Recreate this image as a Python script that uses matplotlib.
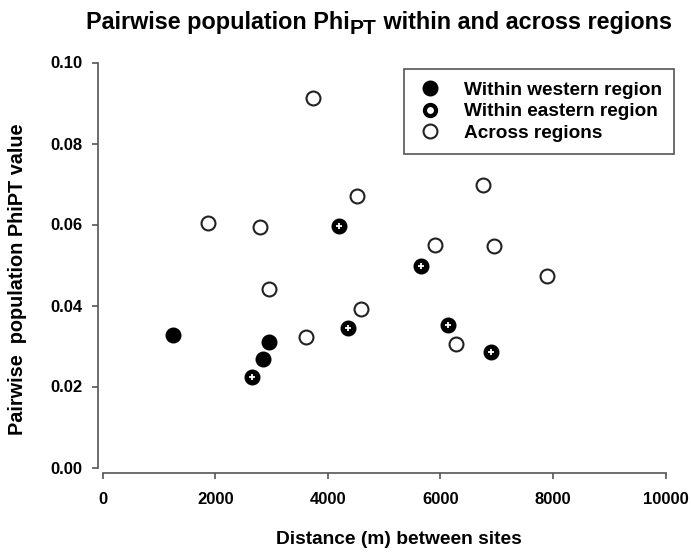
import matplotlib
matplotlib.use("Agg")
import matplotlib.pyplot as plt

plt.rcParams['font.family'] = ['Liberation Sans', 'DejaVu Sans']

# Data
west_x = [1256, 2844, 2956]
west_y = [0.0327, 0.0267, 0.0310]

east_x = [2648, 4204, 4365, 5650, 6129, 6893]
east_y = [0.0223, 0.0597, 0.0344, 0.0498, 0.0352, 0.0286]

across_x = [1872, 2796, 2961, 3613, 3743, 4513, 4584, 5898, 6283, 6762, 6952, 7899]
across_y = [0.0603, 0.0595, 0.0441, 0.0321, 0.0912, 0.0670, 0.0391, 0.0550, 0.0304, 0.0698, 0.0547, 0.0472]

labels = ["Within western region", "Within eastern region", "Across regions"]
x_ticks = [0, 2000, 4000, 6000, 8000, 10000]
y_ticks = [0.00, 0.02, 0.04, 0.06, 0.08, 0.10]

fig = plt.figure(figsize=(6.91, 5.53), dpi=100)
ax = fig.add_axes([102.6 / 691, 1 - 467.5 / 553, 563.0 / 691, 405.0 / 553])

ms = 10
ax.plot(west_x, west_y, 'o', ms=ms, mfc='black', mec='black', mew=1.5, ls='none')
ax.plot(east_x, east_y, 'o', ms=ms, mfc='black', mec='black', mew=1.5, ls='none')
ax.plot(east_x, east_y, '+', ms=4.5, mec='white', mew=1.3, ls='none')
ax.plot(across_x, across_y, 'o', ms=ms, mfc='white', mec='#222222', mew=1.5, ls='none')

# legend handles (proxy)
lh1 = plt.Line2D([], [], marker='o', ls='none', ms=ms, mfc='black', mec='black', mew=1.5)
lh2 = plt.Line2D([], [], marker='o', ls='none', ms=8, mfc='white', mec='black', mew=3.0)
lh3 = plt.Line2D([], [], marker='o', ls='none', ms=ms, mfc='white', mec='#222222', mew=1.5)
leg = ax.legend([lh1, lh2, lh3], labels, loc='upper right',
                bbox_to_anchor=(674 / 691, 1 - 69 / 553), bbox_transform=fig.transFigure,
                prop={'weight': 'bold', 'size': 13.7},
                frameon=True, fancybox=False, edgecolor='#555555', framealpha=1,
                handletextpad=1.0, labelspacing=0.22, borderpad=0.65, handlelength=1.5,
                borderaxespad=0)
leg.get_frame().set_linewidth(1.2)

ax.set_xlim(0, 10000)
ax.set_ylim(0, 0.10)
ax.set_xticks(x_ticks)
ax.set_yticks(y_ticks)
ax.set_xticklabels([str(v) for v in x_ticks])
ax.set_yticklabels([f"{v:.2f}" for v in y_ticks])

for s in ['top', 'right']:
    ax.spines[s].set_visible(False)
ax.spines['left'].set_position(('outward', 3.1))
ax.spines['bottom'].set_position(('outward', 4.1))
for s in ['left', 'bottom']:
    ax.spines[s].set_color('#555555')
    ax.spines[s].set_linewidth(1.2)
ax.tick_params(axis='both', direction='out', length=4.3, width=1.2, color='#555555',
               labelsize=12)
ax.tick_params(axis='x', pad=9)
ax.tick_params(axis='y', pad=7)
for lab in ax.get_xticklabels() + ax.get_yticklabels():
    lab.set_fontweight('bold')
    lab.set_fontsize(12)

fig.text(399 / 691, 1 - 540 / 553, "Distance (m) between sites", ha='center', va='center',
         fontsize=13.8, fontweight='bold')
fig.text(18 / 691, 1 - 279 / 553, "Pairwise  population PhiPT value", ha='center', va='center',
         rotation=90, fontsize=14.3, fontweight='bold')

# Title built from pieces so the subscript can be sized like the reference
renderer = fig.canvas.get_renderer()
tsize = 16.8
base_y = 1 - 29.3 / 553
sub_y = 1 - 33.5 / 553
pieces = [("Pairwise population Phi", tsize, base_y),
          ("PT", tsize * 0.9, sub_y),
          (" within and across regions", tsize, base_y)]
texts = []
for s, size, yy in pieces:
    t = fig.text(0, yy, s, ha='left', va='baseline', fontsize=size, fontweight='bold')
    texts.append(t)
widths = [t.get_window_extent(renderer=renderer).width for t in texts]
total = sum(widths)
x0 = 379 - total / 2
for t, w in zip(texts, widths):
    t.set_x(x0 / 691)
    x0 += w

fig.savefig("out.png", dpi=100)
